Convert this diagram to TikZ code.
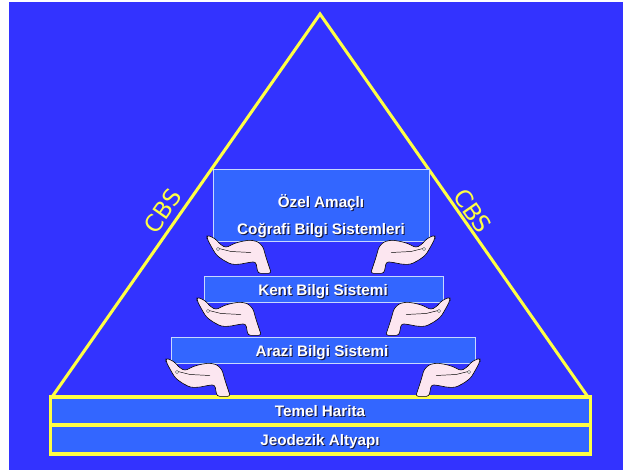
\documentclass[tikz,border=0pt]{standalone}
\usepackage{fontspec}
\setmainfont{Liberation Sans}
\newfontfamily\tagfont{DejaVu Sans}
\usetikzlibrary{fit}

\definecolor{sheet}{HTML}{3333FF}
\definecolor{tierfill}{HTML}{3366FF}
\definecolor{tierline}{HTML}{C8D8FF}
\definecolor{gold}{HTML}{FFFF44}
\definecolor{skin}{HTML}{FCE6F0}
\definecolor{shade}{HTML}{1A1A40}

% white lettering with a small dark drop shadow
\newcommand\dropshadow[1]{\makebox[0pt][l]{\kern0.9pt\raisebox{-0.9pt}{\textcolor{shade}{#1}}}#1}

\tikzset{
  tier/.style={draw=tierline, line width=0.8pt, fill=tierfill, inner sep=0pt},
  basebar/.style={draw=gold, line width=2.6pt, fill=tierfill, inner sep=0pt},
  edge/.style={draw=gold, line width=2.6pt, line join=miter},
  caption/.style={text=white, font=\fontsize{13}{15}\selectfont\bfseries, anchor=base, inner sep=0pt},
  sidetag/.style={text=gold, font=\tagfont\fontsize{20}{24}\selectfont, inner sep=0pt},
  hand/.pic={
    \path[draw=black, line width=0.5pt, fill=skin, rounded corners=2.2]
      (0,0) -- (7.7,3.3) -- (14,10) -- (19,12.7) -- (26,9) -- (33,6.7) -- (43,5)
      -- (51,6.7) -- (56,11.7) -- (59.3,23.3) -- (64.3,38.3) -- (51,38.3)
      -- (48.7,26.7) -- (42.7,27.3) -- (32.7,29.3) -- (24.3,29.3) -- (16,25)
      -- (9.3,20) -- (4.3,11.7) -- (0,3.3) -- cycle;
    \draw[black, line width=0.4pt] (12,13.5) -- (24,16.5) -- (44,17.5);
    \draw[black!70, line width=0.35pt, fill=white] (11,14) circle (1.6);
  }
}

\begin{document}
\begin{tikzpicture}[x=0.03cm, y=-0.03cm]
  \useasboundingbox (0,0) rectangle (623,472);
  \fill[white] (0,0) rectangle (623,472);
  \fill[sheet] (9,2) rectangle (623,470);

  % pyramid outline
  \coordinate (apex) at (320,14);
  \coordinate (baseL) at (52,397);
  \coordinate (baseR) at (588,397);
  \draw[edge] (baseL) -- (apex) -- (baseR);

  % side tags
  \node[sidetag, rotate=55] (cbsL) at (163,211) {CBS};
  \node[sidetag, rotate=-55] (cbsR) at (473,211) {CBS};

  % foundation bars
  \node[basebar, fit={(50.5,397) (590.5,425)}] (temel) {};
  \node[basebar, fit={(50.5,425) (590.5,454)}] (jeodezik) {};
  \node[caption] (temelT) at (320,416.5) {\dropshadow{Temel Harita}};
  \node[caption] (jeodezikT) at (320,445.5) {\dropshadow{Jeodezik Altyapı}};

  % stacked tiers
  \node[tier, fit={(213,169) (429,241)}] (ozel) {};
  \node[caption] (ozelA) at (321,207.5) {\dropshadow{Özel Amaçlı}};
  \node[caption] (ozelB) at (321,234.5) {\dropshadow{Coğrafi Bilgi Sistemleri}};

  \node[tier, fit={(204,276) (443,302)}] (kent) {};
  \node[caption] (kentT) at (323,295.5) {\dropshadow{Kent Bilgi Sistemi}};

  \node[tier, fit={(171,337) (475,363)}] (arazi) {};
  \node[caption] (araziT) at (322,356.5) {\dropshadow{Arazi Bilgi Sistemi}};

  % hands holding up each tier
  \pic at (207,235) {hand};
  \pic[xscale=-1] at (435,235) {hand};
  \pic at (197,297) {hand};
  \pic[xscale=-1] at (450,297) {hand};
  \pic at (166,358) {hand};
  \pic[xscale=-1] at (480,358) {hand};
\end{tikzpicture}
\end{document}
